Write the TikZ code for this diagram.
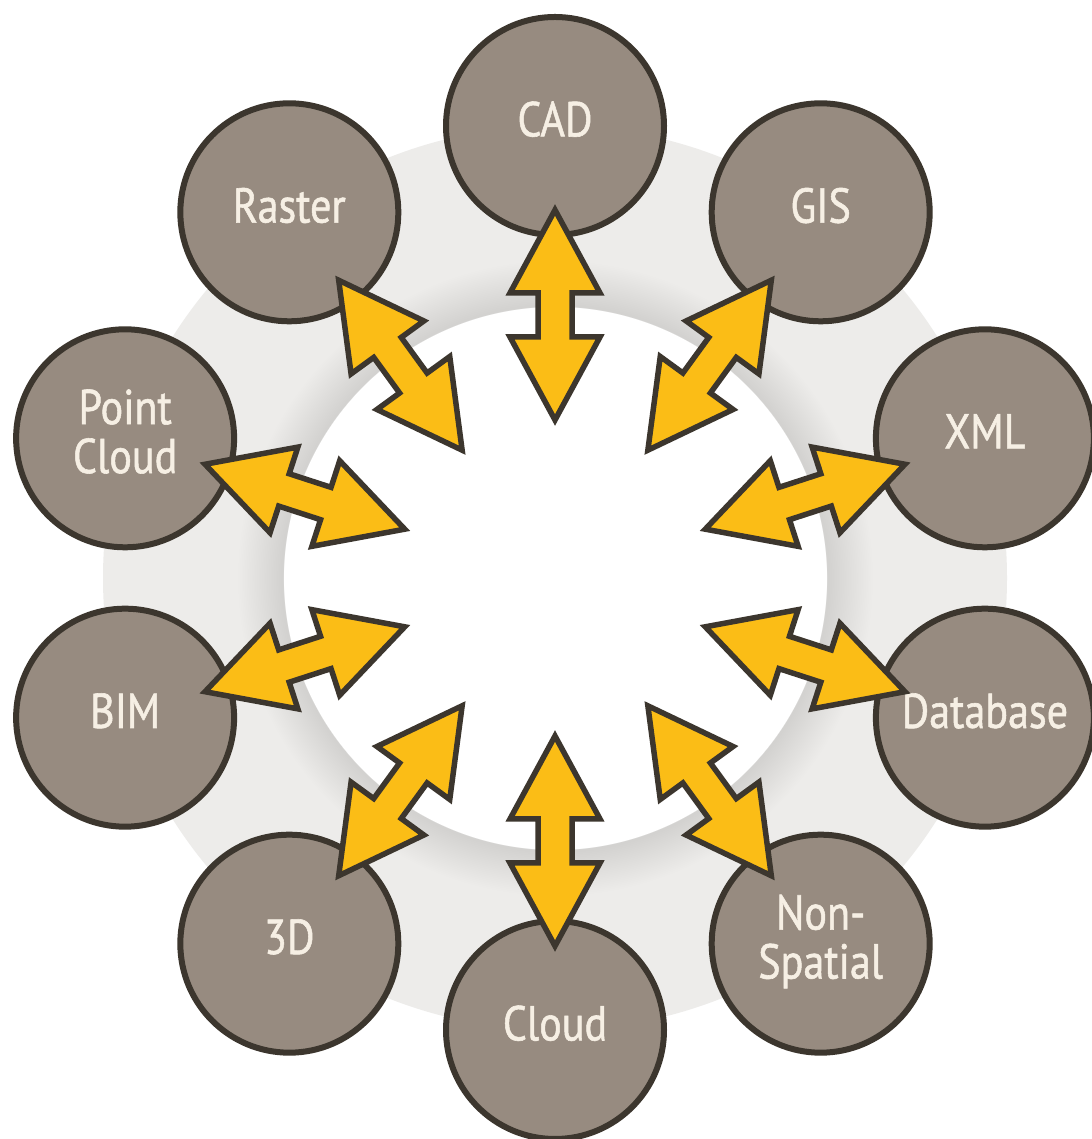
\documentclass[tikz,border=0pt]{standalone}
\usepackage{fontspec}
\usetikzlibrary{calc}
\newfontfamily\lblfont[FakeBold=1.2]{PT Sans}
\definecolor{brownfill}{RGB}{151,139,128}
\definecolor{outline}{RGB}{60,54,46}
\definecolor{arrowyellow}{RGB}{251,189,22}
\definecolor{cream}{RGB}{246,239,228}
\definecolor{ringgray}{RGB}{237,236,234}
\definecolor{ringdark}{RGB}{210,209,207}
\pgfdeclareradialshading{ringshade}{\pgfpointorigin}{color(0bp)=(white); color(15.0bp)=(white); color(15.05bp)=(ringdark); color(17.6bp)=(ringgray); color(25bp)=(ringgray); color(50bp)=(ringgray)}
\newcommand\lbl[1]{\scalebox{0.86}[1]{\begin{tabular}{@{}c@{}}#1\end{tabular}}}
\tikzset{
  srcnode/.style={circle, fill=brownfill, draw=outline, line width=6pt, minimum size=218pt, inner sep=0pt, text=cream, font=\lblfont\fontsize{49}{47}\selectfont},
  dblarrow/.style={fill=arrowyellow, draw=outline, line width=5.5pt, line join=miter}
}
\begin{document}
\begin{tikzpicture}[x=1pt,y=1pt]
\useasboundingbox (0,0) rectangle (1091,1139);
\fill[white] (0,0) rectangle (1091,1139);
\coordinate (hub) at (555,561);
\shade[shading=ringshade] (hub) circle (452);
\foreach \nm/\ang/\txt in {cad/90/CAD, gis/54/GIS, xml/18/XML, db/-18/Database, ns/-54/{Non-\\Spatial}, cl/-90/Cloud, td/-126/3D, bim/-162/BIM, pc/162/{Point\\Cloud}, ras/126/Raster}
  \node[srcnode] (\nm) at ($(hub)+(\ang:452)$) {\lbl{\txt}};
\foreach \nm in {cad, gis, xml, db, ns, cl, td, bim, pc, ras} {
  \coordinate (in-\nm) at ($(hub)!158pt!(\nm)$);
  \draw[dblarrow] (in-\nm)
    -- ($(in-\nm)!83pt!(\nm)!45pt!90:(\nm)$)
    -- ($(in-\nm)!83pt!(\nm)!17pt!90:(\nm)$)
    -- ($(in-\nm)!127pt!(\nm)!17pt!90:(\nm)$)
    -- ($(in-\nm)!127pt!(\nm)!45pt!90:(\nm)$)
    -- ($(in-\nm)!210pt!(\nm)$)
    -- ($(in-\nm)!127pt!(\nm)!45pt!-90:(\nm)$)
    -- ($(in-\nm)!127pt!(\nm)!17pt!-90:(\nm)$)
    -- ($(in-\nm)!83pt!(\nm)!17pt!-90:(\nm)$)
    -- ($(in-\nm)!83pt!(\nm)!45pt!-90:(\nm)$)
    -- cycle;
}
\end{tikzpicture}
\end{document}
